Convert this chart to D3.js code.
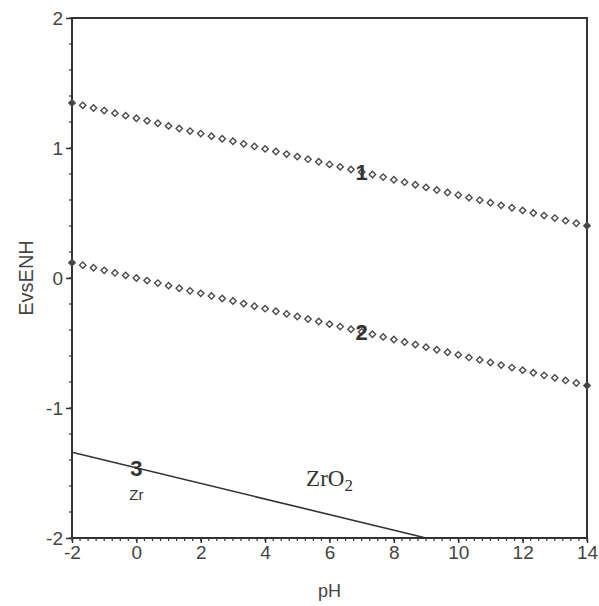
<!DOCTYPE html>
<html>
<head>
<meta charset="utf-8">
<script src="https://cdn.jsdelivr.net/npm/d3@7"></script>
<style>
  body { margin: 0; background: #fff; }
  svg text { font-family: "Liberation Sans", Arial, sans-serif; }
</style>
</head>
<body>
<svg width="599" height="606"></svg>
<script>
// data ==========================================================
var phPoints = [-2, -1.667, -1.333, -1, -0.667, -0.333, 0, 0.333, 0.667, 1, 1.333, 1.667,
  2, 2.333, 2.667, 3, 3.333, 3.667, 4, 4.333, 4.667, 5, 5.333, 5.667,
  6, 6.333, 6.667, 7, 7.333, 7.667, 8, 8.333, 8.667, 9, 9.333, 9.667,
  10, 10.333, 10.667, 11, 11.333, 11.667, 12, 12.333, 12.667, 13, 13.333, 13.667, 14];

// line 1 : O2 / H2O
var line1E = [1.347, 1.328, 1.308, 1.288, 1.268, 1.249, 1.229, 1.209, 1.190, 1.170, 1.150, 1.130,
  1.111, 1.091, 1.071, 1.052, 1.032, 1.012, 0.993, 0.973, 0.953, 0.934, 0.914, 0.894,
  0.874, 0.855, 0.835, 0.815, 0.796, 0.776, 0.756, 0.737, 0.717, 0.697, 0.677, 0.658,
  0.638, 0.618, 0.599, 0.579, 0.559, 0.540, 0.520, 0.500, 0.480, 0.461, 0.441, 0.421, 0.402];

// line 2 : H+ / H2
var line2E = [0.118, 0.099, 0.079, 0.059, 0.039, 0.020, 0, -0.020, -0.039, -0.059, -0.079, -0.099,
  -0.118, -0.138, -0.158, -0.177, -0.197, -0.217, -0.236, -0.256, -0.276, -0.296, -0.315, -0.335,
  -0.355, -0.374, -0.394, -0.414, -0.433, -0.453, -0.473, -0.492, -0.512, -0.532, -0.552, -0.571,
  -0.591, -0.611, -0.630, -0.650, -0.670, -0.689, -0.709, -0.729, -0.749, -0.768, -0.788, -0.808, -0.827];

// line 3 : Zr / ZrO2
var zrPH = [-2, 9];
var zrE = [-1.34, -2.0];

var xTicks = [-2, 0, 2, 4, 6, 8, 10, 12, 14];
var yTicks = [-2, -1, 0, 1, 2];

// labels: [text, pH, E]
var lineLabels = [["1", 7, 0.815], ["2", 7, -0.414], ["3", 0, -1.46]];

// setup ===========================================================
var svg = d3.select("svg");
var x = d3.scaleLinear().domain([-2, 14]).range([72, 587]);
var y = d3.scaleLinear().domain([-2, 2]).range([538, 18]);
var ink = "#333";
var fmt = function(d) { return String(d); };  // plain hyphen minus, no decimals

// minor ticks
svg.append("g")
  .selectAll("line")
  .data(d3.range(-2, 14.001, 0.25))
  .enter().append("line")
    .attr("x1", function(d) { return x(d); })
    .attr("x2", function(d) { return x(d); })
    .attr("y1", y(-2))
    .attr("y2", y(-2) + 3)
    .attr("stroke", ink)
    .attr("stroke-width", 1.2);

svg.append("g")
  .selectAll("line")
  .data(d3.range(-2, 2.001, 0.2))
  .enter().append("line")
    .attr("x1", x(-2) - 3)
    .attr("x2", x(-2))
    .attr("y1", function(d) { return y(d); })
    .attr("y2", function(d) { return y(d); })
    .attr("stroke", ink)
    .attr("stroke-width", 1.2);

// axes
var xAxis = svg.append("g")
  .attr("transform", "translate(0," + y(-2) + ")")
  .call(d3.axisBottom(x).tickValues(xTicks).tickFormat(fmt).tickSize(5).tickPadding(3));
var yAxis = svg.append("g")
  .attr("transform", "translate(" + x(-2) + ",0)")
  .call(d3.axisLeft(y).tickValues(yTicks).tickFormat(fmt).tickSize(6).tickPadding(3));

[xAxis, yAxis].forEach(function(a) {
  a.select(".domain").remove();
  a.selectAll("line").attr("stroke", ink).attr("stroke-width", 1.5);
  a.selectAll("text")
    .attr("fill", "#444")
    .style("font-size", "19px");
});

// frame
svg.append("rect")
  .attr("x", x(-2))
  .attr("y", y(2))
  .attr("width", x(14) - x(-2))
  .attr("height", y(-2) - y(2))
  .attr("fill", "none")
  .attr("stroke", ink)
  .attr("stroke-width", 2);

// line 3
svg.append("path")
  .datum(d3.zip(zrPH, zrE))
  .attr("d", d3.line().x(function(d) { return x(d[0]); }).y(function(d) { return y(d[1]); }))
  .attr("fill", "none")
  .attr("stroke", ink)
  .attr("stroke-width", 1.6);

// diamond markers
var diamond = d3.symbol().type(d3.symbolDiamond2).size(26);
[line1E, line2E].forEach(function(vals) {
  svg.append("g")
    .selectAll("path")
    .data(d3.zip(phPoints, vals))
    .enter().append("path")
      .attr("d", diamond)
      .attr("transform", function(d) { return "translate(" + x(d[0]) + "," + y(d[1]) + ")"; })
      .attr("fill", function(d, i) { return (i == 0 || i == vals.length - 1) ? "#444" : "#fff"; })
      .attr("stroke", "#4a4a4a")
      .attr("stroke-width", 1.4);
});

// labels
svg.append("g")
  .selectAll("text")
  .data(lineLabels)
  .enter().append("text")
    .attr("x", function(d) { return x(d[1]); })
    .attr("y", function(d) { return y(d[2]) + 8; })
    .attr("text-anchor", "middle")
    .attr("font-weight", "bold")
    .attr("fill", ink)
    .style("font-size", "22px")
    .text(function(d) { return d[0]; });

svg.append("text")
  .attr("x", x(0))
  .attr("y", y(-1.71))
  .attr("text-anchor", "middle")
  .attr("fill", ink)
  .style("font-size", "15px")
  .text("Zr");

var zro2 = svg.append("text")
  .attr("x", x(6))
  .attr("y", y(-1.6))
  .attr("text-anchor", "middle")
  .attr("fill", ink)
  .style("font-family", "'Liberation Serif', serif")
  .style("font-size", "23px");
zro2.append("tspan").text("ZrO");
zro2.append("tspan").attr("dy", 5).style("font-size", "17px").text("2");

// axis titles
svg.append("text")
  .attr("transform", "translate(33," + y(0) + ") rotate(-90)")
  .attr("text-anchor", "middle")
  .attr("fill", "#444")
  .style("font-size", "20px")
  .text("EvsENH");

svg.append("text")
  .attr("x", (x(-2) + x(14)) / 2)
  .attr("y", 597)
  .attr("text-anchor", "middle")
  .attr("fill", "#444")
  .style("font-size", "18px")
  .text("pH");
</script>
</body>
</html>
